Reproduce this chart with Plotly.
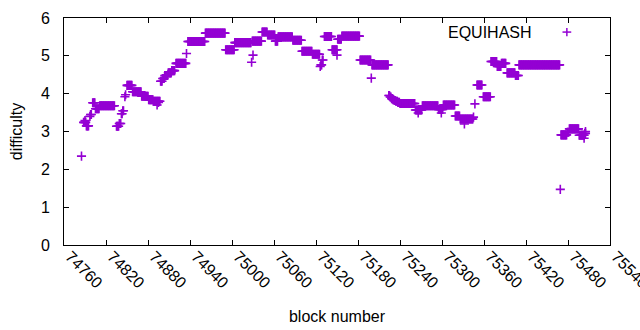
import plotly.graph_objects as go

# Runs of constant difficulty: (first block, last block, difficulty)
run_start = [74785, 74788, 74792, 74798, 74801, 74805, 74811, 74835, 74839, 74842, 74844,
             74847, 74848, 74850, 74858, 74871, 74881, 74888, 74898, 74901, 74904, 74909,
             74914, 74920, 74935, 74937, 74962, 74991, 75004, 75029, 75043, 75051, 75062,
             75066, 75087, 75100, 75115, 75126, 75127, 75129, 75132, 75143, 75151, 75157,
             75183, 75199, 75200, 75224, 75226, 75228, 75230, 75232, 75234, 75237, 75240,
             75262, 75272, 75295, 75302, 75319, 75326, 75345, 75347, 75350, 75359, 75370,
             75379, 75385, 75393, 75405, 75410, 75469, 75470, 75479, 75482, 75496, 75504]
run_end = [74785, 74791, 74795, 74799, 74804, 74810, 74832, 74838, 74841, 74843, 74845,
           74847, 74848, 74857, 74870, 74880, 74887, 74897, 74900, 74903, 74908, 74913,
           74918, 74934, 74935, 74961, 74990, 75003, 75027, 75042, 75050, 75061, 75065,
           75086, 75099, 75114, 75125, 75126, 75128, 75130, 75142, 75150, 75156, 75182,
           75198, 75199, 75223, 75225, 75227, 75229, 75231, 75233, 75236, 75239, 75261,
           75271, 75294, 75301, 75318, 75325, 75344, 75345, 75347, 75357, 75369, 75378,
           75384, 75391, 75404, 75409, 75468, 75469, 75478, 75481, 75495, 75503, 75505]
run_value = [2.35, 3.24, 3.15, 3.45, 3.76, 3.60, 3.68, 3.14, 3.21, 3.47, 3.55,
             3.92, 3.97, 4.22, 4.05, 3.93, 3.84, 3.80, 4.33, 4.40, 4.48, 4.55,
             4.61, 4.80, 5.06, 5.38, 5.60, 5.16, 5.35, 5.39, 5.63, 5.55, 5.39,
             5.50, 5.41, 5.12, 5.04, 4.72, 4.76, 4.89, 5.51, 5.16, 5.44, 5.52,
             4.89, 4.41, 4.76, 3.95, 3.91, 3.87, 3.84, 3.82, 3.80, 3.77, 3.74,
             3.57, 3.68, 3.58, 3.70, 3.41, 3.33, 3.38, 3.73, 4.23, 3.92, 4.85,
             4.72, 4.80, 4.55, 4.48, 4.76, 1.47, 2.91, 2.98, 3.07, 2.90, 2.95]

# Single outlying blocks
extra_block = [74790, 74797, 74893, 74895, 75028, 75030, 75150, 75266, 75299, 75332, 75503, 75505]
extra_value = [3.29, 3.40, 3.70, 3.77, 4.83, 5.02, 5.02, 3.49, 3.49, 3.20, 2.82, 3.00]

blocks, diff = [], []
for s, e, v in zip(run_start, run_end, run_value):
    for b in range(s, e + 1):
        blocks.append(b)
        diff.append(v)
blocks += extra_block
diff += extra_value

x_ticks = list(range(74760, 75541, 60))
y_ticks = [0, 1, 2, 3, 4, 5, 6]

color = "#9400D3"
font = "Liberation Sans, Arial, sans-serif"
fs = 16

fig = go.Figure()
fig.add_trace(go.Scatter(
    x=blocks, y=diff, mode="markers", name="EQUIHASH", showlegend=False,
    marker=dict(symbol="cross-thin", size=6.5, color=color,
                line=dict(color=color, width=1.6)),
))

axis_common = dict(showline=True, linecolor="black", linewidth=1, mirror="allticks",
                   ticks="inside", ticklen=5, tickcolor="black", showgrid=False,
                   zeroline=False, automargin=False,
                   tickfont=dict(family=font, size=fs, color="black"))

fig.update_xaxes(range=[74760, 75540], tickvals=x_ticks,
                 ticktext=[str(t) for t in x_ticks], tickangle=45,
                 ticklabeloverflow="allow", ticklabelshift=6,
                 title=dict(text="block number", font=dict(family=font, size=fs, color="black"),
                            standoff=20),
                 ticklabelstandoff=-5, **axis_common)
fig.update_yaxes(range=[0, 6], tickvals=y_ticks, ticktext=[str(t) for t in y_ticks],
                 title=dict(text="difficulty", font=dict(family=font, size=fs, color="black"),
                            standoff=14),
                 ticklabelstandoff=10, **axis_common)

# legend key (gnuplot style: text then sample)
fig.add_annotation(xref="paper", yref="paper", x=0.86, y=0.938, text="EQUIHASH",
                   showarrow=False, xanchor="right", yanchor="middle",
                   font=dict(family=font, size=fs, color="black"))
lx, ly = 0.921, 0.938
fig.add_shape(type="line", xref="paper", yref="paper", x0=lx - 0.008, x1=lx + 0.008,
              y0=ly, y1=ly, line=dict(color=color, width=1.5))
fig.add_shape(type="line", xref="paper", yref="paper", x0=lx, x1=lx,
              y0=ly - 0.018, y1=ly + 0.018, line=dict(color=color, width=1.5))

fig.update_layout(width=640, height=330, margin=dict(l=64, r=30, t=18, b=85),
                  paper_bgcolor="white", plot_bgcolor="white",
                  font=dict(family=font, size=fs, color="black"))

fig.write_html("out.html", config={"displayModeBar": False},
               post_script="document.body.style.margin='0';")
